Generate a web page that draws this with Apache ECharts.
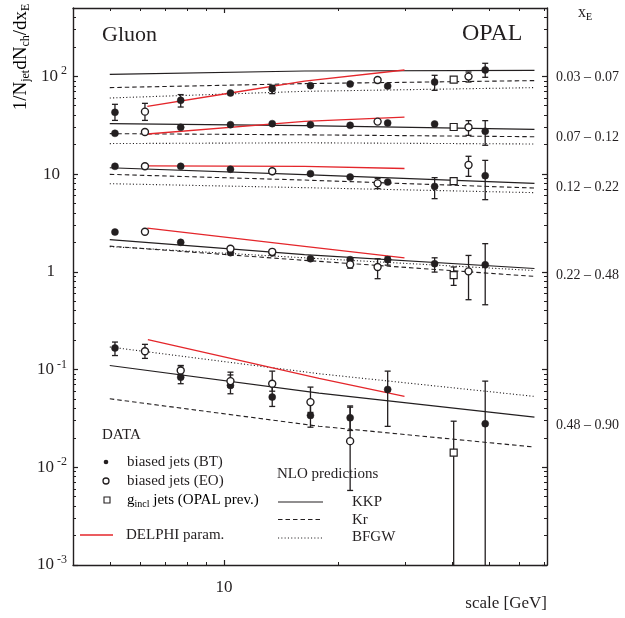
<!DOCTYPE html>
<html><head><meta charset="utf-8">
<script src="https://cdn.jsdelivr.net/npm/echarts@6/dist/echarts.min.js"></script>
<style>html,body{margin:0;padding:0;background:#fff}#c{width:625px;height:618px}</style>
</head><body><div id="c"></div>
<script>
// ---------- data ----------
// points: [scale GeV, value, errLow, errHigh]  (no err => marker only)
const bt1 = [[5.16,42.8,35.4,51.7],[7.69,56.8,48.5,65.0],[10.4,67.5],[13.4,74.8,66.5,80.9],[16.9,80.3],[21.5,83.4],[27.0,79.6],[35.9,87.4,71.9,102.4],[48.8,116,97.7,135.9]];
const eo1 = [[6.19,43.5,35.4,52.9],[25.4,91.6],[44.1,99.3,87.4,110.7]];
const sq1 = [[40.3,92.5]];

const bt2 = [[5.16,26.1],[7.69,30.1],[10.4,32.0],[13.4,32.8],[16.9,32.0],[21.5,31.5],[27.0,33.3],[35.9,32.5,30.9,34.2],[48.8,27.4,19.7,35.2]];
const eo2 = [[6.19,26.9],[25.4,34.4],[44.1,30.1,24.9,35.2]];
const sq2 = [[40.3,30.3]];

const bt3 = [[5.16,12.0],[7.69,12.0],[10.4,11.2],[13.4,10.6],[16.9,10.1],[21.5,9.32],[27.0,8.28,7.8,8.8],[35.9,7.48,5.60,9.19],[48.8,9.63,5.47,13.8]];
const eo3 = [[6.19,12.0],[13.4,10.7],[25.4,8.03,7.09,8.97],[44.1,12.4,9.47,15.2]];
const sq3 = [[40.3,8.48,7.75,9.32]];

const bt4 = [[5.16,2.55],[7.69,2.00],[10.4,1.57],[13.4,1.56],[16.9,1.36],[21.5,1.33,1.25,1.42],[27.0,1.33,1.17,1.42],[35.9,1.21,0.993,1.39],[48.8,1.18,0.46,1.94]];
const eo4 = [[6.19,2.57],[10.4,1.72],[13.4,1.60],[21.5,1.19,1.09,1.40],[25.4,1.12,0.85,1.36],[44.1,1.01,0.518,1.47]];
const sq4 = [[40.3,0.925,0.726,1.12]];

const bt5 = [[5.16,0.166,0.139,0.191],[7.69,0.0836,0.0716,0.110],[10.4,0.0688,0.0565,0.094],[13.4,0.0522,0.0419,0.0719],[16.9,0.0339,0.0257,0.0483],[21.5,0.0321,0.0238,0.0412],[27.0,0.0626,0.0262,0.0963],[48.8,0.0279,0.0001,0.0761]];
const eo5 = [[6.19,0.154,0.130,0.181],[7.69,0.0979,0.086,0.109],[10.4,0.0761,0.066,0.088],[13.4,0.0716,0.060,0.0963],[16.9,0.0464,0.0364,0.0661],[21.5,0.0185,0.00579,0.0424]];
const sq5 = [[40.3,0.0141,0.0001,0.0296]];

// NLO predictions and DELPHI parametrisation: [scale, value]
const kkp1 = [[5.0,104.8],[16.3,113.3],[65.8,115.2]];
const kkp2 = [[5.0,32.8],[16.3,31.3],[65.8,28.7]];
const kkp3 = [[5.0,11.6],[16.3,9.86],[65.8,8.03]];
const kkp4 = [[5.0,2.13],[16.3,1.50],[65.8,1.08]];
const kkp5 = [[5.0,0.110],[17.8,0.0573],[65.8,0.0326]];

const kr1 = [[5.0,76.6],[16.3,84.2],[65.8,90.4]];
const kr2 = [[5.0,25.9],[16.3,25.2],[65.8,24.1]];
const kr3 = [[5.0,9.93],[16.3,8.68],[65.8,7.19]];
const kr4 = [[5.0,1.83],[16.3,1.31],[65.8,0.897]];
const kr5 = [[5.0,0.0502],[17.8,0.0263],[65.8,0.0161]];

const bfgw1 = [[5.0,60.0],[16.3,70.2],[65.8,76.6]];
const bfgw2 = [[5.0,20.5],[16.3,20.9],[65.8,20.3]];
const bfgw3 = [[5.0,7.97],[16.3,7.26],[65.8,6.45]];
const bfgw4 = [[5.0,1.81],[16.3,1.39],[65.8,1.03]];
const bfgw5 = [[5.0,0.170],[17.8,0.0906],[65.8,0.0531]];

const delphi1 = [[6.28,49.3],[10.4,67.5],[16.3,89.5],[29.9,116]];
const delphi2 = [[6.28,25.7],[16.3,34.6],[29.9,38.3]];
const delphi3 = [[6.28,12.1],[16.3,12.0],[29.9,11.4]];
const delphi4 = [[6.28,2.80],[16.3,1.82],[29.9,1.39]];
const delphi5 = [[6.3,0.202],[17.8,0.0811],[29.9,0.0531]];

const binLabels = ['0.03 – 0.07','0.07 – 0.12','0.12 – 0.22','0.22 – 0.48','0.48 – 0.90'];
const binLabelAt = [97, 23.8, 7.3, 0.92, 0.0268];
const yMajorTicks = [0.001,0.01,0.1,1,10,100];
const xMajorTicks = [10];
const xMinorTicks = [5,6,7,8,9,20,30,40,50,60,70];

// ---------- build ----------
const yMinorTicks = [];
for (let e = -3; e <= 2; e++) for (let m = 2; m <= 9; m++) { const v = m * Math.pow(10, e); if (v <= 500) yMinorTicks.push(+v.toPrecision(3)); }

const FONT = '"Liberation Serif", "DejaVu Serif", serif';
const INK = '#231f20';
const RED = '#e4262b';

const bands = [
  {bt:bt1,eo:eo1,sq:sq1,kkp:kkp1,kr:kr1,bfgw:bfgw1,delphi:delphi1},
  {bt:bt2,eo:eo2,sq:sq2,kkp:kkp2,kr:kr2,bfgw:bfgw2,delphi:delphi2},
  {bt:bt3,eo:eo3,sq:sq3,kkp:kkp3,kr:kr3,bfgw:bfgw3,delphi:delphi3},
  {bt:bt4,eo:eo4,sq:sq4,kkp:kkp4,kr:kr4,bfgw:bfgw4,delphi:delphi4},
  {bt:bt5,eo:eo5,sq:sq5,kkp:kkp5,kr:kr5,bfgw:bfgw5,delphi:delphi5}
];

const series = [];
const lineBase = {type:'line', symbol:'none', showSymbol:false, silent:true, animation:false, clip:true};
bands.forEach((b, i) => {
  series.push(Object.assign({}, lineBase, {name:'KKP'+i, data:b.kkp, z:2, lineStyle:{color:INK, width:1.2}}));
  series.push(Object.assign({}, lineBase, {name:'Kr'+i, data:b.kr, z:2, lineStyle:{color:INK, width:1.1, type:[4.5,3]}}));
  series.push(Object.assign({}, lineBase, {name:'BFGW'+i, data:b.bfgw, z:2, lineStyle:{color:INK, width:1.1, type:[1.1,2.2]}}));
  series.push(Object.assign({}, lineBase, {name:'DELPHI'+i, data:b.delphi, z:3, lineStyle:{color:RED, width:1.3}}));
  const errs = [].concat(b.bt, b.eo, b.sq).filter(p => p.length === 4).map(p => [p[0], p[2], p[3]]);
  series.push({
    type:'custom', name:'err'+i, data:errs, clip:true, silent:true, animation:false, z:4,
    encode:{x:0, y:[1,2]},
    renderItem: function (params, api) {
      const x = api.value(0);
      const p1 = api.coord([x, api.value(2)]);
      const p2 = api.coord([x, api.value(1)]);
      if (Math.abs(p2[1] - p1[1]) < 8) return null;
      const st = {stroke:INK, lineWidth:1.3};
      const c = 3;
      return {type:'group', children:[
        {type:'line', shape:{x1:p1[0], y1:p1[1], x2:p2[0], y2:p2[1]}, style:st},
        {type:'line', shape:{x1:p1[0]-c, y1:p1[1], x2:p1[0]+c, y2:p1[1]}, style:st},
        {type:'line', shape:{x1:p2[0]-c, y1:p2[1], x2:p2[0]+c, y2:p2[1]}, style:st}
      ]};
    }
  });
  series.push({type:'scatter', name:'BT'+i, data:b.bt.map(p => [p[0], p[1]]), symbol:'circle', symbolSize:7, z:6, silent:true, animation:false,
    itemStyle:{color:INK, borderColor:INK, borderWidth:0.5, opacity:1}});
  series.push({type:'scatter', name:'EO'+i, data:b.eo.map(p => [p[0], p[1]]), symbol:'circle', symbolSize:7, z:7, silent:true, animation:false,
    itemStyle:{color:'#fff', borderColor:INK, borderWidth:1.4, opacity:1}});
  series.push({type:'scatter', name:'SQ'+i, data:b.sq.map(p => [p[0], p[1]]), symbol:'rect', symbolSize:7, z:7, silent:true, animation:false,
    itemStyle:{color:'#fff', borderColor:INK, borderWidth:1.2, opacity:1}});
});

const axLine = {show:true, lineStyle:{color:INK, width:1.4}};
const X = {type:'log', min:4, max:71, logBase:10, splitLine:{show:false}};
const Y = {type:'log', min:0.001, max:500, logBase:10, splitLine:{show:false}};

function yLab(v) {
  const e = Math.round(Math.log10(v));
  if (e === 0) return '{one|1}';
  if (e === 1) return '{ten|10}';
  return '{b|10}{s| ' + e + '}';
}
function binLab(v) {
  for (let i = 0; i < binLabelAt.length; i++) if (Math.abs(Math.log10(v) - Math.log10(binLabelAt[i])) < 1e-4) return binLabels[i];
  return '';
}

const xAxis = [
  Object.assign({}, X, {position:'bottom', axisLine:axLine,
    axisTick:{show:true, inside:true, length:5, customValues:xMajorTicks, lineStyle:{color:INK, width:1.2}},
    axisLabel:{show:true, customValues:xMajorTicks, margin:14, fontSize:17, fontFamily:FONT, color:INK, formatter: v => String(Math.round(v))}}),
  Object.assign({}, X, {position:'bottom', axisLine:{show:false},
    axisTick:{show:true, inside:true, length:3, customValues:xMinorTicks, lineStyle:{color:INK, width:1}}, axisLabel:{show:false}}),
  Object.assign({}, X, {position:'top', axisLine:axLine,
    axisTick:{show:true, inside:true, length:5, customValues:xMajorTicks, lineStyle:{color:INK, width:1.2}}, axisLabel:{show:false}}),
  Object.assign({}, X, {position:'top', axisLine:{show:false},
    axisTick:{show:true, inside:true, length:3, customValues:xMinorTicks, lineStyle:{color:INK, width:1}}, axisLabel:{show:false}})
];
const yAxis = [
  Object.assign({}, Y, {position:'left', axisLine:axLine,
    axisTick:{show:true, inside:true, length:5, customValues:yMajorTicks, lineStyle:{color:INK, width:1.2}},
    axisLabel:{show:true, customValues:yMajorTicks, margin:6, formatter:yLab,
      rich:{
        b:{fontSize:17, fontFamily:FONT, color:INK, lineHeight:22},
        s:{fontSize:12, fontFamily:FONT, color:INK, lineHeight:12, verticalAlign:'top'},
        ten:{fontSize:17, fontFamily:FONT, color:INK, lineHeight:22, padding:[0,7,0,0]},
        one:{fontSize:17, fontFamily:FONT, color:INK, lineHeight:22, padding:[0,12,0,0]}
      }}}),
  Object.assign({}, Y, {position:'left', axisLine:{show:false},
    axisTick:{show:true, inside:true, length:3, customValues:yMinorTicks, lineStyle:{color:INK, width:1}}, axisLabel:{show:false}}),
  Object.assign({}, Y, {position:'right', axisLine:axLine,
    axisTick:{show:true, inside:true, length:5, customValues:yMajorTicks, lineStyle:{color:INK, width:1.2}},
    axisLabel:{show:true, customValues:binLabelAt, margin:9, formatter:binLab, fontSize:14, fontFamily:FONT, color:INK}}),
  Object.assign({}, Y, {position:'right', axisLine:{show:false},
    axisTick:{show:true, inside:true, length:3, customValues:yMinorTicks, lineStyle:{color:INK, width:1}}, axisLabel:{show:false}})
];

function txt(x, y, text, size, extra) {
  return Object.assign({type:'text', x:x, y:y, silent:true,
    style:{text:text, fontSize:size, fontFamily:FONT, fill:INK, textAlign:'left', textVerticalAlign:'middle'}}, extra || {});
}
const graphic = [
  txt(102, 35, 'Gluon', 22),
  txt(462, 34, 'OPAL', 24),
  {type:'text', x:578, y:13, silent:true, style:{text:'{m|x}{s|E}', textAlign:'left', textVerticalAlign:'middle',
    rich:{m:{fontSize:16, fontFamily:FONT, fill:INK, color:INK, lineHeight:18}, s:{fontSize:10, fontFamily:FONT, color:INK, lineHeight:10, verticalAlign:'bottom'}}}},
  {type:'text', x:21, y:57, rotation:Math.PI/2, silent:true, style:{text:'{m|1/N}{s|jet}{m|dN}{s|ch}{m|/dx}{s|E}', textAlign:'center', textVerticalAlign:'middle',
    rich:{m:{fontSize:19, fontFamily:FONT, color:INK, lineHeight:22}, s:{fontSize:12, fontFamily:FONT, color:INK, lineHeight:10, verticalAlign:'bottom'}}}},
  txt(547, 604, 'scale [GeV]', 17, {style:{text:'scale [GeV]', fontSize:17, fontFamily:FONT, fill:INK, textAlign:'right', textVerticalAlign:'middle'}}),
  // data legend
  txt(102, 435, 'DATA', 15),
  {type:'circle', silent:true, shape:{cx:106, cy:462, r:2.3}, style:{fill:INK}},
  txt(127, 462, 'biased jets (BT)', 15),
  {type:'circle', silent:true, shape:{cx:106, cy:481, r:3}, style:{fill:'#fff', stroke:INK, lineWidth:1.3}},
  txt(127, 481, 'biased jets (EO)', 15),
  {type:'rect', silent:true, shape:{x:104, y:497, width:6, height:6}, style:{fill:'#fff', stroke:INK, lineWidth:1.1}},
  {type:'text', x:127, y:500, silent:true, style:{text:'{m|g}{s|incl}{m| jets (OPAL prev.)}', textAlign:'left', textVerticalAlign:'middle',
    rich:{m:{fontSize:15, fontFamily:FONT, color:INK, lineHeight:18}, s:{fontSize:10, fontFamily:FONT, color:INK, lineHeight:12, verticalAlign:'bottom'}}}},
  {type:'line', silent:true, shape:{x1:80, y1:535, x2:113, y2:535}, style:{stroke:RED, lineWidth:1.4}},
  txt(126, 535, 'DELPHI param.', 15),
  // NLO legend
  txt(277, 474, 'NLO predictions', 15),
  {type:'line', silent:true, shape:{x1:278, y1:502, x2:323, y2:502}, style:{stroke:INK, lineWidth:1.1}},
  txt(352, 502, 'KKP', 15),
  {type:'line', silent:true, shape:{x1:278, y1:519.5, x2:323, y2:519.5}, style:{stroke:INK, lineWidth:1.1, lineDash:[4.5,3]}},
  txt(352, 520, 'Kr', 15),
  {type:'line', silent:true, shape:{x1:278, y1:538, x2:323, y2:538}, style:{stroke:INK, lineWidth:1, lineDash:[1.1,2.2]}},
  txt(352, 537, 'BFGW', 15)
];

const chart = echarts.init(document.getElementById('c'), null, {renderer:'canvas'});
chart.setOption({
  animation:false,
  backgroundColor:'#fff',
  grid:{left:73, right:78, top:8, bottom:53, containLabel:false},
  xAxis:xAxis,
  yAxis:yAxis,
  series:series.map(s => Object.assign(s, {xAxisIndex:0, yAxisIndex:0})),
  graphic:graphic
});
</script>
</body></html>
